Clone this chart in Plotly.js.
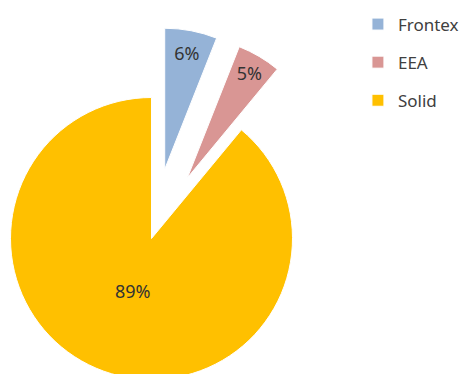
<!DOCTYPE html>
<html>
<head>
<meta charset="utf-8">
<script src="https://cdn.plot.ly/plotly-3.0.1.min.js"></script>
<style>
  html, body { margin: 0; padding: 0; width: 467px; height: 374px; overflow: hidden; background: #fff; }
  #chart { position: absolute; left: -60px; top: 0px; }
</style>
</head>
<body>
<div id="chart"></div>
<script>
// ---- data ----
const categories = ['Frontex', 'EEA', 'Solid'];
const shares = [6, 5, 89];
const pulls = [0.5, 0.5, 0];
const sliceColors = ['#95B3D7', '#D99694', '#FFC000'];

const FONT = '"Noto Sans", "Open Sans", sans-serif';
const legendLabels = categories.map(c => '<span style="font-size:17px;baseline-shift:4px">' + c + '</span>');

const mainPie = {
  type: 'pie',
  labels: legendLabels,
  values: shares,
  pull: pulls,
  sort: false,
  direction: 'clockwise',
  rotation: 0,
  marker: { colors: sliceColors, line: { color: '#ffffff', width: 1 } },
  texttemplate: ['%{percent}', '%{percent}', ''],
  textposition: 'inside',
  insidetextorientation: 'horizontal',
  insidetextfont: { family: FONT, size: 18, color: '#333333' },
  hoverinfo: 'label+percent',
  domain: { x: [0, 1], y: [0, 1] }
};

// transparent copy used only to place the big slice's label nearer the centre
const labelPie = {
  type: 'pie',
  labels: legendLabels,
  values: shares,
  sort: false,
  direction: 'clockwise',
  rotation: 0,
  marker: { colors: ['rgba(0,0,0,0)', 'rgba(0,0,0,0)', 'rgba(0,0,0,0)'], line: { width: 0 } },
  texttemplate: ['', '', '%{percent}'],
  textposition: 'inside',
  insidetextorientation: 'horizontal',
  insidetextfont: { family: FONT, size: 18, color: '#333333' },
  showlegend: false,
  hoverinfo: 'skip',
  domain: { x: [0.2376, 0.7624], y: [0.2376, 0.7624] }
};

const layout = {
  width: 540,
  height: 470,
  margin: { l: 0, r: 117, t: 27, b: 20 },
  paper_bgcolor: '#ffffff',
  plot_bgcolor: '#ffffff',
  font: { family: FONT, color: '#404040' },
  showlegend: true,
  legend: {
    x: 0.988, xanchor: 'left',
    y: 1.0638, yanchor: 'top',
    font: { family: FONT, size: 27, color: '#404040' },
    bgcolor: 'rgba(0,0,0,0)'
  }
};

Plotly.newPlot('chart', [mainPie, labelPie], layout, { displayModeBar: false, staticPlot: true });
</script>
</body>
</html>
